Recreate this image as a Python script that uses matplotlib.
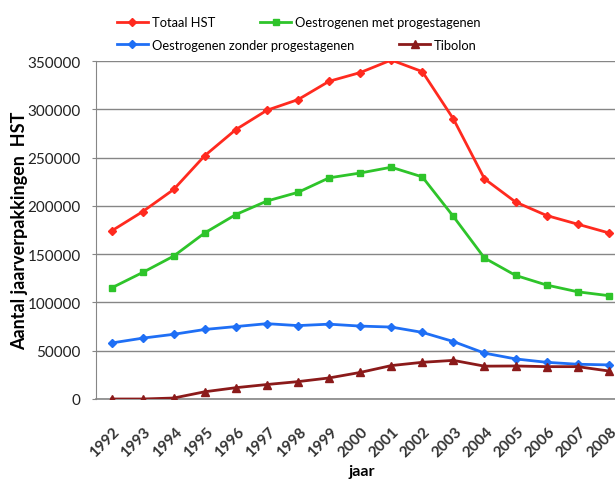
import numpy as np
import matplotlib.pyplot as plt
from matplotlib.transforms import ScaledTranslation

plt.rcParams['font.family'] = ['Lato', 'DejaVu Sans']

jaren = np.arange(1992, 2009)
totaal_hst = [174000, 194000, 217000, 252000, 279000, 299000, 310000, 329000, 338000,
              351000, 339000, 290000, 228000, 204000, 190000, 181000, 172000]
oestro_met = [115000, 131000, 148000, 172000, 191000, 205000, 214000, 229000, 234000,
              240000, 230000, 189000, 146000, 128000, 118000, 111000, 107000]
oestro_zonder = [58000, 63000, 67000, 72000, 75000, 78000, 76000, 77500, 75500,
                 74500, 69000, 59500, 47500, 41500, 38000, 36000, 35300]
tibolon = [0, 0, 1000, 7500, 11700, 15000, 18000, 21800, 27500,
           34600, 38000, 40000, 34000, 34200, 33500, 33500, 29000]

fig = plt.figure(figsize=(6.15, 4.81), dpi=100)
ax = fig.add_axes([0.1561, 0.1684, 0.8439, 0.7027])

lw = 2.0
ax.plot(jaren, totaal_hst, color='#ff2a1f', lw=lw, marker='D', ms=4.5, label='Totaal HST', zorder=4)
ax.plot(jaren, oestro_met, color='#2ec42a', lw=lw, marker='s', ms=5, label='Oestrogenen met progestagenen', zorder=4)
ax.plot(jaren, oestro_zonder, color='#1f6ff5', lw=lw, marker='D', ms=4.5, label='Oestrogenen zonder progestagenen', zorder=4)
ax.plot(jaren, tibolon, color='#8b1a1a', lw=lw, marker='^', ms=6, label='Tibolon', zorder=4)

ax.set_xlim(1991.5, 2008.2)
ax.set_ylim(0, 350000)
ax.set_yticks(np.arange(0, 350001, 50000))
ax.set_xticks(jaren)
ax.set_xticklabels([str(j) for j in jaren], rotation=45, ha='right', rotation_mode='anchor',
                   fontsize=11, fontweight='bold', color='#333333')
ax.tick_params(axis='x', length=0, pad=16)
# jaartallen iets naar onder
shift = ScaledTranslation(1 / 100, -3 / 100, fig.dpi_scale_trans)
for lab in ax.get_xticklabels():
    lab.set_transform(lab.get_transform() + shift)
ax.tick_params(axis='y', length=3, color='#868686', labelsize=11, pad=8, labelcolor='#222222')
ax.yaxis.grid(True, color='#868686', lw=1)
ax.set_axisbelow(True)
for s in ['top', 'right']:
    ax.spines[s].set_visible(False)
ax.spines['left'].set_color('#868686')
ax.spines['bottom'].set_color('#868686')
ax.spines['bottom'].set_linewidth(1.2)

ax.set_ylabel('Aantal jaarverpakkingen  HST', fontsize=13, fontweight='bold', va='center')
ax.yaxis.set_label_coords(-0.148, 0.5)
fig.text(362 / 615, 1 - 472 / 481, 'jaar', fontsize=11.5, fontweight='bold', ha='center', va='center')

h = ax.get_lines()
leg_kw = dict(frameon=False, ncol=2, fontsize=9.3, handlelength=2.4, handletextpad=0.3,
              columnspacing=3.5, borderpad=0, borderaxespad=0, loc='center left')
fig.legend([h[0], h[1]], [h[0].get_label(), h[1].get_label()],
           bbox_to_anchor=(0.19, 0.952), **leg_kw)
fig.legend([h[2], h[3]], [h[2].get_label(), h[3].get_label()],
           bbox_to_anchor=(0.19, 0.905), **leg_kw)

fig.savefig('out.png', dpi=100)
